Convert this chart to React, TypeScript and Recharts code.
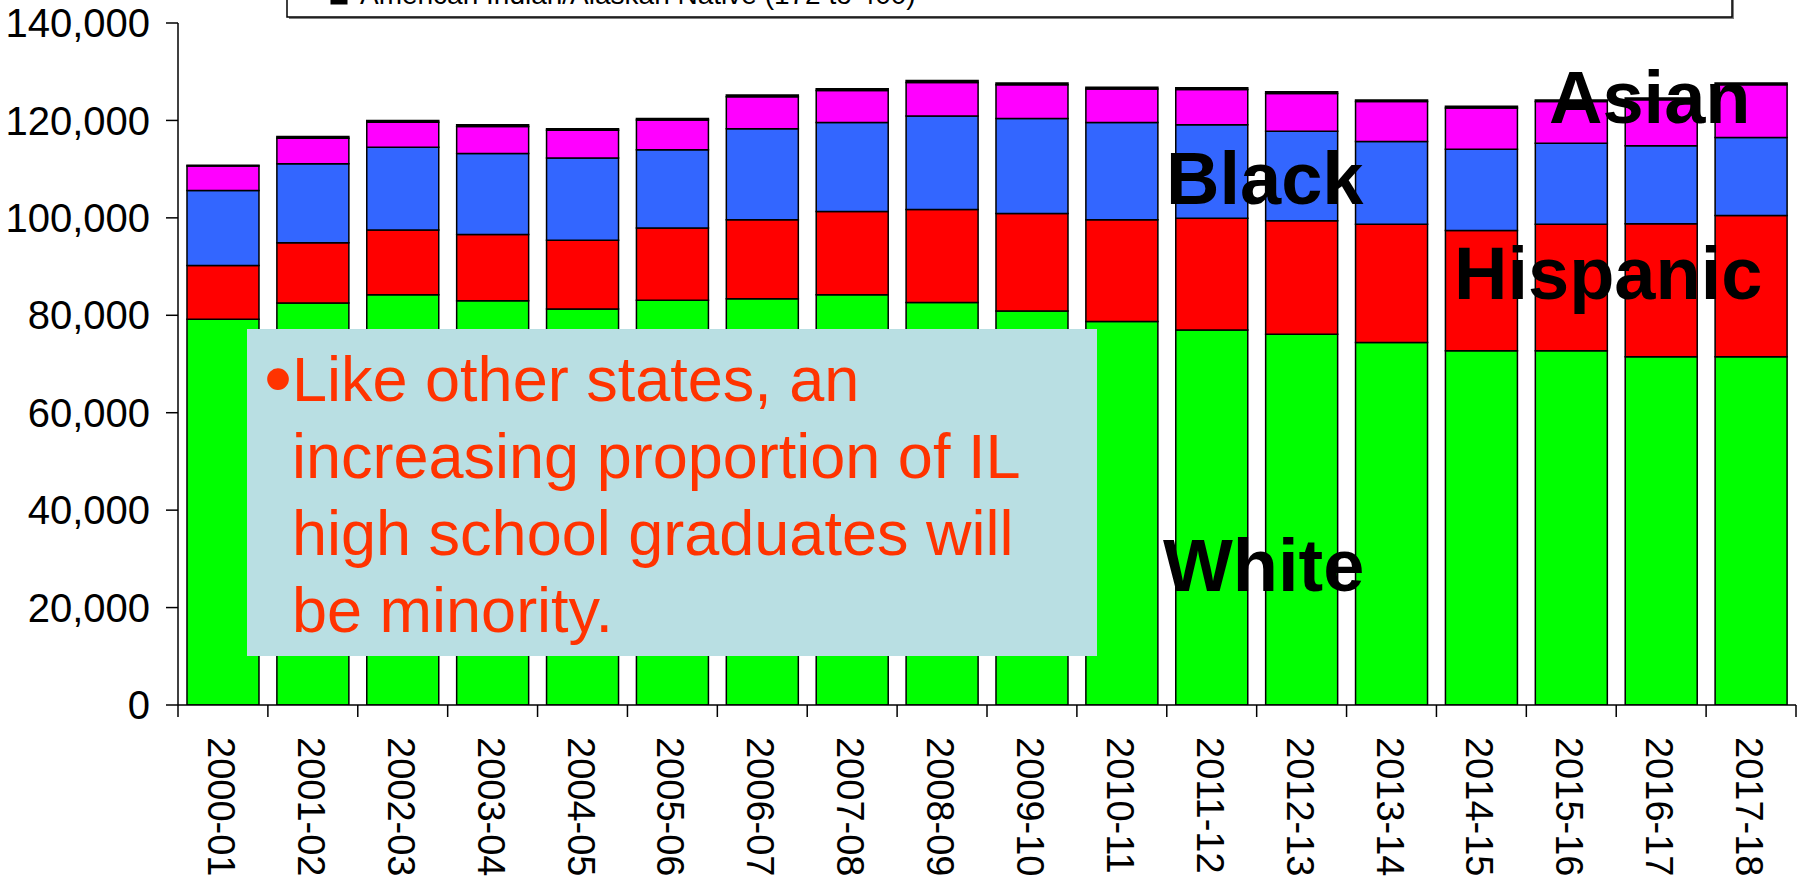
import React from "react";
import { BarChart, Bar, XAxis, YAxis } from "recharts";

const YEARS = [
  "2000-01", "2001-02", "2002-03", "2003-04", "2004-05", "2005-06",
  "2006-07", "2007-08", "2008-09", "2009-10", "2010-11", "2011-12",
  "2012-13", "2013-14", "2014-15", "2015-16", "2016-17", "2017-18",
];
const WHITE = [
  79200, 82500, 84200, 83000, 81300, 83100, 83400, 84200, 82600,
  80900, 78700, 77000, 76100, 74400, 72700, 72700, 71500, 71500,
];
const HISPANIC = [
  11000, 12400, 13300, 13600, 14100, 14800, 16200, 17100, 19100,
  20000, 20900, 22900, 23300, 24300, 24700, 26000, 27300, 29000,
];
const BLACK = [
  15400, 16200, 17000, 16600, 16900, 16100, 18700, 18300, 19200,
  19500, 20000, 19200, 18400, 17000, 16700, 16600, 16000, 16000,
];
const ASIAN = [
  5030, 5220, 5150, 5550, 5670, 6070, 6540, 6520, 6900,
  6920, 6830, 7240, 7750, 8160, 8470, 8560, 9450, 10840,
];
const AIAN = [
  172, 380, 350, 350, 330, 330, 360, 380, 400,
  380, 370, 360, 350, 340, 330, 340, 350, 360,
];
const Y_TICKS = [0, 20000, 40000, 60000, 80000, 100000, 120000, 140000];

const NOTE_LINES = [
  "Like other states, an",
  "increasing proportion of IL",
  "high school graduates will",
  "be minority.",
];

const data = YEARS.map((year, i) => ({
  year,
  white: WHITE[i],
  hispanic: HISPANIC[i],
  black: BLACK[i],
  asian: ASIAN[i],
  aian: AIAN[i],
}));

const FONT = '"Liberation Sans", Arial, Helvetica, sans-serif';

// category ticks sit between bars (Excel style), labels run downward
function YearTick(props: any) {
  const { x, y, payload, index, visibleTicksCount } = props;
  const half = payload?.offset ? payload.offset : 44.9;
  const top = y - 32;
  const bot = y - 20;
  const tx = x - 2;
  return (
    <g>
      <line x1={x - half} x2={x - half} y1={top} y2={bot} stroke="#000" strokeWidth={1.5} />
      {index === visibleTicksCount - 1 && (
        <line x1={x + half} x2={x + half} y1={top} y2={bot} stroke="#000" strokeWidth={1.5} />
      )}
      <text
        x={tx}
        y={y}
        transform={`rotate(90, ${tx}, ${y})`}
        textAnchor="start"
        dominantBaseline="central"
        fontSize={38}
        fontFamily={FONT}
        fill="#000"
      >
        {payload.value}
      </text>
    </g>
  );
}

const fmt = (v: number) => v.toLocaleString("en-US");

export default function App() {
  const seg = { stroke: "#000", strokeWidth: 1.5, isAnimationActive: false, stackId: "a" };
  return (
    <div style={{ position: "absolute", left: 0, top: 0, width: 1810, height: 885, overflow: "hidden", background: "#fff" }}>
      <BarChart
        width={1810}
        height={885}
        data={data}
        margin={{ top: 23, right: 14, bottom: 0, left: 0 }}
        barCategoryGap="10%"
      >
        <XAxis
          dataKey="year"
          height={180}
          interval={0}
          tickSize={12}
          tickMargin={20}
          tickLine={false}
          axisLine={{ stroke: "#000", strokeWidth: 1.5 }}
          tick={<YearTick />}
        />
        <YAxis
          width={178}
          domain={[0, 140000]}
          ticks={Y_TICKS}
          interval={0}
          allowDataOverflow
          tickFormatter={fmt}
          tickSize={12}
          tickMargin={16}
          axisLine={{ stroke: "#000", strokeWidth: 1.5 }}
          tickLine={{ stroke: "#000", strokeWidth: 1.5 }}
          tick={{ fontSize: 40, fill: "#000", fontFamily: FONT }}
        />
        <Bar dataKey="white" name="White" fill="#00FF00" {...seg} />
        <Bar dataKey="hispanic" name="Hispanic" fill="#FF0000" {...seg} />
        <Bar dataKey="black" name="Black" fill="#3366FF" {...seg} />
        <Bar dataKey="asian" name="Asian" fill="#FF00FF" {...seg} />
        <Bar dataKey="aian" name="American Indian/Alaskan Native" fill="#000000" {...seg} />
      </BarChart>

      <svg
        width={1810}
        height={885}
        style={{ position: "absolute", left: 0, top: 0, pointerEvents: "none" }}
        fontFamily={FONT}
      >
        {/* legend box, mostly above the visible area */}
        <rect x={289} y={-58} width={1445} height={77} fill="#808080" />
        <rect x={287} y={-60} width={1445} height={77} fill="#fff" stroke="#000" strokeWidth={1.5} />
        <rect x={331} y={-14} width={16} height={18} fill="#000" stroke="#000" strokeWidth={1} />
        <text x={360} y={4} fontSize={28} fill="#000">
          American Indian/Alaskan Native (172 to 400)
        </text>

        {/* group labels */}
        <g fontSize={74} fontWeight="bold" fill="#000">
          <text x={1549} y={123}>Asian</text>
          <text x={1166} y={204}>Black</text>
          <text x={1454} y={299}>Hispanic</text>
          <text x={1163} y={591}>White</text>
        </g>

        {/* note box */}
        <rect x={247} y={329} width={850} height={327} fill="#B9DFE3" />
        <g fill="#FF3300">
          <text x={264} y={406} fontSize={80}>•</text>
          {NOTE_LINES.map((line, i) => (
            <text key={i} x={292} y={401 + i * 77} fontSize={63}>
              {line}
            </text>
          ))}
        </g>
      </svg>
    </div>
  );
}
